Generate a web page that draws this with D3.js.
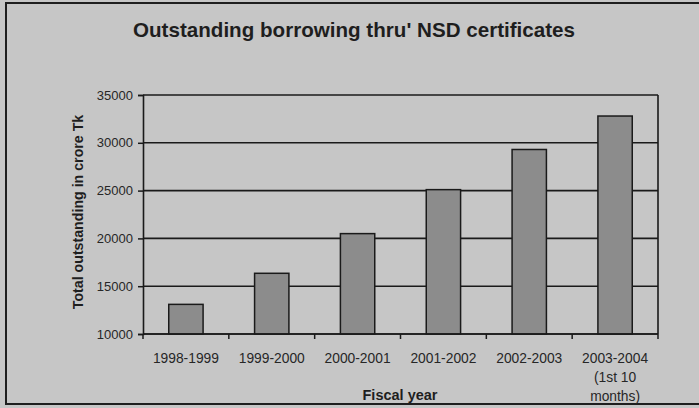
<!DOCTYPE html>
<html>
<head>
<meta charset="utf-8">
<script src="https://cdn.jsdelivr.net/npm/d3@7"></script>
<style>
  body { margin: 0; background: #c6c6c6; }
  svg { display: block; font-family: "Liberation Sans", Arial, sans-serif; }
</style>
</head>
<body>
<div id="vis"></div>
<script>
// Data
const years = ["1998-1999", "1999-2000", "2000-2001", "2001-2002", "2002-2003", "2003-2004"]
const yearNotes = ["", "", "", "", "", "(1st 10|months)"]
const outstanding = [13100, 16350, 20500, 25100, 29300, 32800]
const yTicks = [10000, 15000, 20000, 25000, 30000, 35000]

const W = 699, H = 408
const plot = { left: 143, right: 658, top: 95, bottom: 334 }

const svg = d3.select("#vis").append("svg")
  .attr("width", W)
  .attr("height", H)

svg.append("rect")
  .attr("width", W).attr("height", H)
  .attr("fill", "#c6c6c6")

// outer frame of the clipping
svg.append("rect")
  .attr("x", 6).attr("y", 3)
  .attr("width", W + 10).attr("height", 401)
  .attr("fill", "none")
  .attr("stroke", "#1e1e1e")
  .attr("stroke-width", 2)

const x = d3.scaleBand()
  .domain(years)
  .range([plot.left, plot.right])
  .paddingInner(0.6)
  .paddingOuter(0.3)

const y = d3.scaleLinear()
  .domain([10000, 35000])
  .range([plot.bottom, plot.top])

// gridlines
svg.append("g")
  .selectAll("line")
  .data(yTicks)
  .join("line")
  .attr("x1", plot.left).attr("x2", plot.right)
  .attr("y1", d => y(d)).attr("y2", d => y(d))
  .attr("stroke", "#1a1a1a")
  .attr("stroke-width", 1.6)

// right border of plot
svg.append("line")
  .attr("x1", plot.right).attr("x2", plot.right)
  .attr("y1", plot.top).attr("y2", plot.bottom)
  .attr("stroke", "#1a1a1a")
  .attr("stroke-width", 1.6)

// bars
svg.append("g")
  .selectAll("rect")
  .data(outstanding)
  .join("rect")
  .attr("x", (d, i) => x(years[i]))
  .attr("y", d => y(d))
  .attr("width", x.bandwidth())
  .attr("height", d => y(10000) - y(d))
  .attr("fill", "#8c8c8c")
  .attr("stroke", "#1a1a1a")
  .attr("stroke-width", 1.5)

// y axis
const yAxis = svg.append("g")
  .attr("transform", `translate(${plot.left},0)`)
  .call(d3.axisLeft(y).tickValues(yTicks).tickFormat(d3.format("d")).tickSize(5).tickPadding(5))
yAxis.select(".domain").attr("stroke", "#1a1a1a").attr("stroke-width", 1.6)
yAxis.selectAll(".tick line").attr("stroke", "#1a1a1a").attr("stroke-width", 1.5)
yAxis.selectAll(".tick text")
  .attr("font-size", 13)
  .attr("fill", "#262626")
  .attr("font-family", "Liberation Sans, Arial, sans-serif")

// x axis: ticks sit between categories
const xAxis = svg.append("g")
  .attr("transform", `translate(0,${plot.bottom})`)
xAxis.append("line")
  .attr("x1", plot.left).attr("x2", plot.right)
  .attr("stroke", "#1a1a1a").attr("stroke-width", 1.6)
xAxis.selectAll(".xt")
  .data(years.concat(["end"]))
  .join("line")
  .attr("class", "xt")
  .attr("x1", (d, i) => i < years.length ? x(d) - x.step() * x.paddingOuter() : plot.right)
  .attr("x2", (d, i) => i < years.length ? x(d) - x.step() * x.paddingOuter() : plot.right)
  .attr("y1", 0).attr("y2", 5)
  .attr("stroke", "#1a1a1a").attr("stroke-width", 1.5)

const labels = svg.append("g")
  .selectAll("text")
  .data(years)
  .join("text")
  .attr("x", d => x(d) + x.bandwidth() / 2)
  .attr("y", 363)
  .attr("text-anchor", "middle")
  .attr("font-size", 13.8)
  .attr("fill", "#262626")
labels.each(function (d, i) {
  const t = d3.select(this)
  t.append("tspan").text(d)
  if (yearNotes[i]) {
    yearNotes[i].split("|").forEach(line => {
      t.append("tspan")
        .attr("x", x(d) + x.bandwidth() / 2)
        .attr("dy", 19)
        .text(line)
    })
  }
})

// title and axis titles
svg.append("text")
  .attr("x", 354).attr("y", 37)
  .attr("text-anchor", "middle")
  .attr("font-size", 20.6)
  .attr("font-weight", "bold")
  .attr("fill", "#1e1e1e")
  .text("Outstanding borrowing thru' NSD certificates")

svg.append("text")
  .attr("transform", "translate(83,212) rotate(-90)")
  .attr("text-anchor", "middle")
  .attr("font-size", 14.2)
  .attr("font-weight", "bold")
  .attr("fill", "#1e1e1e")
  .text("Total outstanding in crore Tk")

svg.append("text")
  .attr("x", 400).attr("y", 400)
  .attr("text-anchor", "middle")
  .attr("font-size", 14.5)
  .attr("font-weight", "bold")
  .attr("fill", "#1e1e1e")
  .text("Fiscal year")
</script>
</body>
</html>
